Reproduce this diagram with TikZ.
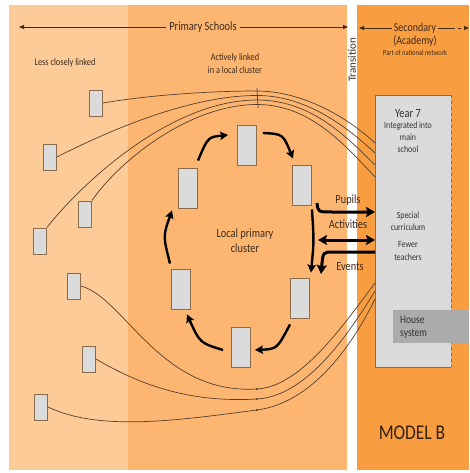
\documentclass[tikz,border=0pt]{standalone}
\usepackage{fontspec}
\setmainfont[FakeStretch=0.83]{Carlito}
\newfontfamily\widefont{Carlito}
\usetikzlibrary{arrows.meta,calc}
\definecolor{lightband}{HTML}{FDCB98}
\definecolor{midband}{HTML}{FCB671}
\definecolor{deepband}{HTML}{F99D41}
\definecolor{boxfill}{HTML}{DBDBDB}
\definecolor{housefill}{HTML}{ABABAB}
\definecolor{boxedge}{HTML}{8A6B4C}
\definecolor{inkbrown}{HTML}{3E2B1C}
\definecolor{linkbrown}{HTML}{55402D}
\definecolor{greytext}{HTML}{333333}
\definecolor{modelink}{HTML}{33200F}
\newcommand\setfs[2]{\fontsize{#1}{#2}\selectfont}

\begin{document}
\begin{tikzpicture}[x=1pt,y=-1pt,
  school/.style={draw=boxedge,fill=boxfill,line width=0.9pt,inner sep=0pt,minimum width=13pt,minimum height=26pt},
  member/.style={school,minimum width=19pt,minimum height=40pt},
  txt/.style={text=inkbrown,inner sep=0pt},
  boxtxt/.style={text=greytext,inner sep=0pt,align=center},
  link/.style={draw=linkbrown,line width=0.7pt},
  guide/.style={draw=inkbrown,line width=0.8pt},
  guidetip/.style={-{Triangle[length=5pt,width=4pt]}},
  ringarrow/.style={line width=2.4pt,-{Stealth[length=8pt,width=8.5pt,inset=1.5pt]}},
  flow/.style={line width=3pt},
  flowtip/.style={-{Stealth[length=9pt,width=10pt,inset=1.5pt]}},
]
\useasboundingbox (0,0) rectangle (469,473);
\fill[white] (0,0) rectangle (469,473);
% three bands: loosely linked primaries, local cluster, secondary
\fill[lightband] (9,5) rectangle (128,470);
\fill[midband] (128,5) rectangle (347,470);
\fill[deepband] (357,5) rectangle (469,470);

% headings
\node[txt,font=\setfs{12.5}{14}] (prim) at (203,27) {Primary Schools};
\coordinate (primL) at (19,27);
\coordinate (primR) at (348,27);
\draw[guide,guidetip] ([xshift=-3pt]prim.west) -- (primL);
\draw[guide,guidetip] ([xshift=3pt]prim.east) -- (primR);

\node[txt,font=\setfs{12}{14}] (sec) at (415,28) {Secondary};
\node[txt,font=\setfs{12}{14}] (acad) at (415,41) {(Academy)};
\node[txt,font=\setfs{7.8}{9}] (natnet) at (415,53) {Part of national network};
\coordinate (secL) at (359,28);
\coordinate (secR) at (469,28);
\draw[guide,guidetip] ([xshift=-2pt]sec.west) -- (secL);
\draw[guide] ([xshift=2pt]sec.east) -- ++(14,0) coordinate (secD);
\draw[guide,dashed,guidetip] (secD) -- (secR);

\node[txt,rotate=90,font=\widefont\setfs{11}{12}] (trans) at (352,60) {Transition};

\node[txt,font=\setfs{10}{12}] (loose) at (65,63) {Less closely linked};
\node[txt,font=\setfs{10}{13},align=center] (active) at (235,64) {Actively linked\\in a local cluster};
\node[txt,font=\setfs{12.5}{15},align=center] (clusterlabel) at (245,241) {Local primary\\cluster};

% secondary school block
\node[fill=boxfill,inner sep=0pt,minimum width=76pt,minimum height=272pt,anchor=north west] (year7) at (375,95) {};
\draw[boxedge,line width=0.9pt] (year7.north east) -- (year7.north west) -- (year7.south west) -- (year7.south east);
\draw[boxedge,line width=0.9pt,dashed] (year7.north east) -- (year7.south east);
\node[boxtxt,font=\setfs{12.5}{14}] (y7title) at (408,114) {Year 7};
\node[boxtxt,font=\setfs{9.5}{12}] (y7integ) at (408,137) {Integrated into\\main\\school};
\node[boxtxt,font=\setfs{9.5}{12}] (y7spec) at (408,221) {Special\\curriculum};
\node[boxtxt,font=\setfs{9.5}{12.5}] (y7fewer) at (408,251) {Fewer\\teachers};
\node[fill=housefill,inner sep=0pt,minimum width=76pt,minimum height=33pt,anchor=north west] (house) at (393,310) {};
\node[boxtxt,align=left,anchor=west,font=\setfs{11.5}{13}] (housetxt) at (400,327) {House\\system};

\node[txt,text=modelink,font=\setfs{21}{24}] (model) at (412,433) {MODEL B};

% primaries that are less closely linked
\node[school] (s1) at (96,103) {};
\node[school] (s2) at (50,157) {};
\node[school] (s3) at (85,214) {};
\node[school] (s4) at (40,241) {};
\node[school] (s5) at (74,286) {};
\node[school] (s6) at (89,359) {};
\node[school] (s7) at (41,407) {};

% local primary cluster
\node[member] (cT) at (247,145) {};
\node[member] (cUR) at (302,185) {};
\node[member] (cLR) at (300,298) {};
\node[member] (cB) at (241,347) {};
\node[member] (cLL) at (181,289) {};
\node[member] (cUL) at (188,188) {};

% thin links to Year 7, upper bundle
\draw[link] (s1.east) .. controls (150,95) and (210,91) .. (257,91) .. controls (300,91) and (345,115) .. ([yshift=-48pt]year7.north west);
\draw[link] (s2.east) .. controls (120,125) and (195,95.5) .. (257,95.5) .. controls (305,95.5) and (345,125) .. ([yshift=-58pt]year7.north west);
\draw[link] (s4.north east) .. controls (80,185) and (170,100) .. (257,100) .. controls (310,100) and (345,135) .. ([yshift=-70pt]year7.north west);
\draw[link] (s3.north east) .. controls (120,160) and (190,104.5) .. (257,104.5) .. controls (310,104.5) and (345,145) .. ([yshift=-82pt]year7.north west);
\draw[link] (257,88) -- (258,108);

% thin links to Year 7, lower bundle
\draw[link] (s5.east) .. controls (125,298) and (160,395) .. (257,389) .. controls (300,386.3) and (340,330) .. ([yshift=-188pt]year7.north west);
\draw[link] (s6.east) .. controls (140,385) and (190,403) .. (257,399) .. controls (305,396) and (345,340) .. ([yshift=-196pt]year7.north west);
\draw[link] (s7.east) .. controls (100,432) and (180,420) .. (257,410) .. controls (310,403) and (350,350) .. ([yshift=-204pt]year7.north west);
\fill[linkbrown] (257,389) circle (1.2pt) (257,399) circle (1.2pt) (257,410) circle (1.2pt);

% clockwise cycle round the cluster
\draw[ringarrow] ($(cUL.north east)+(0,-7)$) .. controls (208,137) .. ($(cT.west)+(-9,-10)$);
\draw[ringarrow] ($(cT.east)+(6,-12)$) .. controls (283,134) .. ($(cUR.north)+(-9,-6)$);
\draw[ringarrow] ($(cUR.south east)+(0,4)$) .. controls (314,241) .. ($(cLR.north east)+(1,-5)$);
\draw[ringarrow] ($(cLR.south)+(-10,6)$) .. controls (277,349) .. ($(cB.east)+(4,3)$);
\draw[ringarrow] ($(cB.west)+(-8,3)$) .. controls (200,343) .. ($(cLL.south)+(6,5)$);
\draw[ringarrow] ($(cLL.north)+(-11,-5)$) .. controls (163,236) .. ($(cUL.south)+(-16,2)$);

% exchanges between cluster and secondary
\coordinate (pupilsFrom) at (317,203);
\coordinate (activitiesFrom) at (318,240);
\coordinate (eventsTo) at (321,274);
\draw[flow,flowtip] (pupilsFrom) .. controls (318,212) .. (332,212) -- ([yshift=-117pt]year7.north west);
\draw[flow,{Stealth[length=9pt,width=10pt,inset=1.5pt]}-{Stealth[length=9pt,width=10pt,inset=1.5pt]}] (activitiesFrom) -- ([yshift=-145pt]year7.north west);
\draw[flow,flowtip] ([yshift=-157pt]year7.north west) -- (333,252) .. controls (323,252) .. (eventsTo);
\node[txt,font=\setfs{12.5}{14}] (pupils) at (348,200) {Pupils};
\node[txt,font=\setfs{12.5}{14}] (activities) at (348,224) {Activities};
\node[txt,font=\setfs{12.5}{14}] (events) at (350,267) {Events};
\end{tikzpicture}
\end{document}
